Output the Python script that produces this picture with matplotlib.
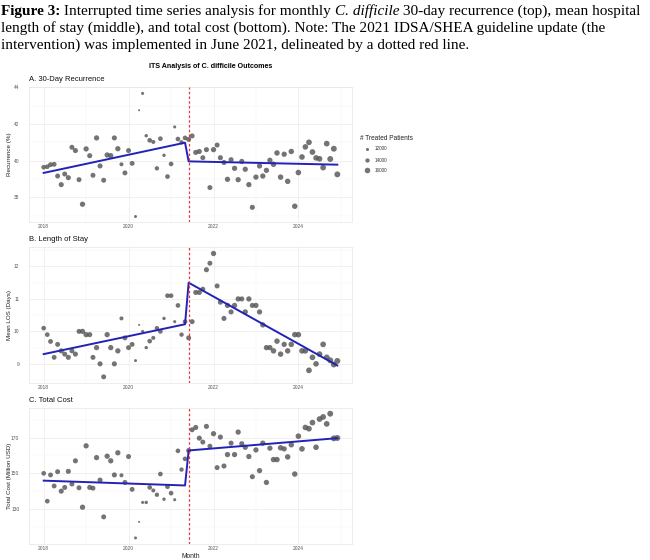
import numpy as np
import pandas as pd
import matplotlib
matplotlib.use('Agg')
import matplotlib.pyplot as plt
import matplotlib.dates as mdates

# monthly data, Jan 2018 .. Dec 2024
months = pd.date_range('2018-01-01', periods=84, freq='MS')
intervention = pd.Timestamp('2021-06-01')

recurrence = [39.64, 39.67, 39.78, 39.80, 39.16, 38.69, 39.27, 39.07, 40.73, 40.55, 38.96, 37.62,
              40.64, 40.27, 39.20, 41.24, 39.71, 38.93, 40.31, 40.27, 41.24, 40.65, 39.80, 39.33,
              40.55, 39.85, 36.95, 42.75, 43.67, 41.36, 41.11, 41.02, 39.58, 41.20, 40.29, 39.13,
              39.82, 41.84, 41.18, 41.00, 41.24, 41.16, 41.35, 40.45, 40.50, 40.16, 40.60, 38.53,
              40.60, 40.85, 40.16, 39.90, 38.98, 40.05, 39.58, 38.96, 39.96, 39.53, 38.69, 37.45,
              39.10, 39.71, 39.16, 39.47, 40.02, 39.80, 40.42, 39.10, 40.35, 38.87, 40.50, 37.51,
              39.35, 40.20, 40.75, 41.00, 40.47, 40.15, 40.10, 39.62, 40.93, 40.09, 40.65, 39.25]

los = [10.1, 9.9, 9.69, 9.2, 9.6, 9.4, 9.3, 9.2, 9.4, 9.3, 10.0, 10.0,
       9.9, 9.9, 9.2, 9.5, 9.0, 8.6, 9.9, 9.5, 9.0, 9.4, 10.4, 9.8,
       9.5, 9.6, 9.1, 10.2, 10.0, 9.5, 9.7, 9.8, 10.1, 10.0, 10.4, 11.1,
       11.1, 10.3, 10.8, 9.9, 10.3, 9.8, 10.3, 11.2, 11.2, 11.3, 11.9, 12.1,
       12.4, 11.4, 10.9, 10.4, 10.8, 10.6, 10.8, 11.0, 11.0, 10.6, 11.0, 10.8,
       10.8, 10.6, 10.2, 9.5, 9.5, 9.4, 9.7, 9.3, 9.6, 9.4, 9.6, 9.9,
       9.9, 9.4, 9.4, 8.8, 9.2, 9.0, 9.3, 9.6, 9.2, 9.11, 8.98, 9.09]

cost = [150.0, 134.4, 149.1, 142.9, 150.9, 140.0, 142.1, 151.1, 144.0, 157.0, 141.9, 131.0,
        165.4, 142.1, 141.7, 158.8, 146.2, 125.6, 159.6, 157.0, 149.1, 161.5, 148.9, 144.9,
        159.4, 141.0, 113.8, 122.8, 133.7, 133.7, 142.1, 140.4, 138.0, 149.6, 135.5, 142.5,
        138.9, 135.2, 162.6, 152.1, 158.1, 162.8, 174.4, 175.7, 169.7, 167.5, 176.3, 165.2,
        172.2, 153.2, 170.3, 154.1, 160.5, 166.9, 160.5, 173.1, 166.6, 164.6, 159.4, 148.1,
        163.1, 151.5, 166.9, 144.9, 164.1, 157.7, 157.7, 164.3, 163.7, 159.2, 166.0, 149.6,
        170.8, 163.7, 175.7, 175.0, 178.4, 164.6, 180.4, 181.6, 177.7, 183.4, 169.6, 169.8]

patients = [14500, 14500, 14800, 14800, 15000, 15200, 15000, 15200, 15000, 15200, 15000, 15500,
            15500, 15200, 15000, 15500, 15200, 15000, 15500, 15500, 15200, 15500, 13500, 15000,
            15000, 14800, 11800, 10300, 12000, 12500, 14500, 13500, 14000, 14500, 12500, 14500,
            14500, 12000, 14500, 14000, 14500, 15000, 15000, 15200, 15200, 15000, 15200, 15000,
            15500, 15000, 15200, 15200, 15500, 15200, 15500, 15500, 15200, 15500, 15500, 15200,
            15500, 15500, 15500, 15500, 15500, 15800, 15800, 15800, 15500, 15800, 15800, 15800,
            16000, 16000, 16000, 16200, 16200, 16000, 16200, 16200, 16200, 16500, 16500, 16500]

# segmented regression fit: (month index, fitted value)
fit_idx = [0, 40, 41, 83]
rec_fit = [39.33, 40.98, 39.96, 39.78]
los_fit = [9.30, 10.22, 11.50, 8.95]
cost_fit = [145.9, 143.2, 162.8, 169.7]

legend_sizes = [12000, 14000, 16000]


def marker_area(p):
    d_px = 3.1 + (np.asarray(p) - 12000) / 1600.0
    return (d_px / 1.389) ** 2


W, H = 650, 560
fig = plt.figure(figsize=(6.5, 5.6), dpi=100)
SANS = 'Liberation Sans'
SERIF = 'Liberation Serif'

# caption
renderer = fig.canvas.get_renderer()
caption = [
    [("Figure 3:", 'normal', 'bold'), (" Interrupted time series analysis for monthly ", 'normal', 'normal'),
     ("C. difficile", 'italic', 'normal'), (" 30-day recurrence (top), mean hospital", 'normal', 'normal')],
    [("length of stay (middle), and total cost (bottom). Note: The 2021 IDSA/SHEA guideline update (the",
      'normal', 'normal')],
    [("intervention) was implemented in June 2021, delineated by a dotted red line.", 'normal', 'normal')],
]
baselines = [15, 32, 49]
for line, yb in zip(caption, baselines):
    x = 1.0 / W
    for s, st, wt in line:
        t = fig.text(x, 1 - yb / H, s, family=SERIF, fontsize=10.95, fontstyle=st,
                     fontweight=wt, va='baseline', ha='left')
        x = t.get_window_extent(renderer).x1 / W

fig.text(211 / W, 1 - 66 / H, "ITS Analysis of C. difficile Outcomes", family=SANS,
         fontsize=5.1, fontweight='bold', ha='center', va='center')

left, right = 29, 352
panels = [
    ("A. 30-Day Recurrence", "Recurrence (%)", recurrence, rec_fit, 87, 222, (36.65, 44.02), [38, 40, 42, 44]),
    ("B. Length of Stay", "Mean LOS (Days)", los, los_fit, 247, 383, (8.41, 12.6), [9, 10, 11, 12]),
    ("C. Total Cost", "Total Cost (Million USD)", cost, cost_fit, 408, 544, (110.4, 186.6), [130, 150, 170]),
]

span = months[-1] - months[0]
xlim = (months[0] - span * 0.05, months[-1] + span * 0.05)
fit_dates = [months[i] for i in fit_idx]

for title, ylabel, vals, fit, top, bot, ylim, yticks in panels:
    ax = fig.add_axes([left / W, 1 - bot / H, (right - left) / W, (bot - top) / H])
    ax.scatter(months, vals, s=marker_area(patients), color='#555555', alpha=0.82,
               linewidths=0, zorder=3)
    ax.plot(fit_dates, fit, color='#2222b8', lw=1.4, zorder=4, solid_joinstyle='round')
    ax.axvline(intervention, color='#ee3340', lw=0.9, ls=(0, (2.0, 1.8)), zorder=5)
    ax.set_xlim(xlim)
    ax.set_ylim(ylim)
    ax.set_yticks(yticks)
    ax.set_yticks(np.arange(yticks[0] - (yticks[1] - yticks[0]) / 2, ylim[1],
                            (yticks[1] - yticks[0]) / 2), minor=True)
    ax.xaxis.set_major_locator(mdates.YearLocator(2))
    ax.set_xticks([pd.Timestamp(f'{y}-01-01') for y in (2019, 2021, 2023, 2025)], minor=True)
    ax.xaxis.set_major_formatter(mdates.DateFormatter('%Y'))
    ax.grid(which='major', color='#ebebeb', lw=0.5)
    ax.grid(which='minor', color='#f4f4f4', lw=0.35)
    ax.set_axisbelow(True)
    for sp in ax.spines.values():
        sp.set_color('#e6e6e6')
        sp.set_linewidth(0.5)
    ax.tick_params(which='both', length=0, labelsize=3.5, labelcolor='#555555')
    ax.tick_params(axis='y', pad=7)
    ax.tick_params(axis='x', pad=1.5)
    for lab in ax.get_xticklabels() + ax.get_yticklabels():
        lab.set_family(SANS)
    ax.set_ylabel(ylabel, family=SANS, fontsize=4.5, color='#222222')
    ax.yaxis.set_label_coords(-(left - 12) / (right - left), 0.5)
    ax.text(0, 1 + 6 / (bot - top), title, transform=ax.transAxes, family=SANS,
            fontsize=5.5, ha='left', va='baseline', color='#111111')
    last = ax

last.set_xlabel("Month", family=SANS, fontsize=4.8, color='#222222', labelpad=1.5)

# legend for point size
fig.text(360 / W, 1 - 139 / H, "# Treated Patients", family=SANS, fontsize=4.7,
         color='#222222', va='center', ha='left')
lax = fig.add_axes([0, 0, 1, 1], facecolor='none')
lax.set_xlim(0, W)
lax.set_ylim(H, 0)
lax.axis('off')
for p, yy in zip(legend_sizes, [149, 160, 170]):
    lax.scatter([367], [yy], s=marker_area(p), color='#555555', alpha=0.82, linewidths=0)
    lax.text(375, yy, str(p), family=SANS, fontsize=3.3, color='#333333', va='center', ha='left')

fig.savefig('out.png', dpi=100, facecolor='white')
